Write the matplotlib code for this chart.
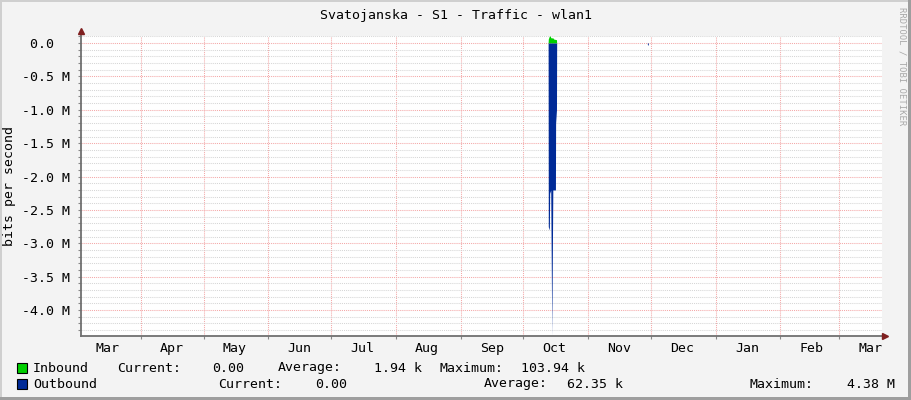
import matplotlib
matplotlib.use("Agg")
import matplotlib.pyplot as plt
import matplotlib.dates as mdates
from matplotlib.patches import Rectangle
from matplotlib.ticker import FixedLocator, FuncFormatter
import pandas as pd

# Traffic samples (bits per second); only the mid-October burst is non-zero
in_times = ["2024-03-03 08:00", "2024-10-12 20:00", "2024-10-12 22:00", "2024-10-13 10:00",
            "2024-10-13 22:00", "2024-10-14 02:00", "2024-10-15 06:00", "2024-10-15 12:00",
            "2024-10-16 20:00", "2024-10-16 22:00", "2025-03-21 14:00"]
in_bps = [0, 0, 0.06e6, 0.104e6, 0.104e6, 0.08e6, 0.075e6, 0.06e6, 0.05e6, 0, 0]

out_times = ["2024-03-03 08:00", "2024-10-12 20:00", "2024-10-12 22:00", "2024-10-13 10:00",
             "2024-10-13 14:00", "2024-10-14 02:00", "2024-10-14 14:00", "2024-10-15 02:00",
             "2024-10-16 08:00", "2024-10-16 10:00", "2024-10-16 20:00", "2024-10-16 22:00",
             "2024-11-29 06:00", "2024-11-29 10:00", "2024-11-29 16:00", "2024-11-29 20:00",
             "2025-03-21 14:00"]
out_bps = [0, 0, 2.75e6, 2.80e6, 2.25e6, 2.20e6, 4.38e6, 2.20e6, 2.20e6, 1.20e6,
           1.00e6, 0, 0, 0.03e6, 0.03e6, 0, 0]

x_start, x_end = "2024-03-03 08:00", "2025-03-21 14:00"
y_bottom, y_top = -4.38e6, 0.104e6

legend_rows = [
    ("Inbound", "#00CF00", [("Current:", 117), ("0.00", 212), ("Average:", 278),
                            ("1.94 k", 374), ("Maximum:", 440), ("103.94 k", 521)]),
    ("Outbound", "#002A97", [("Current:", 218), ("0.00", 315), ("Average:", 484),
                             ("62.35 k", 567), ("Maximum:", 749), ("4.38 M", 847)]),
]

W, H = 911, 400
mono = "DejaVu Sans Mono"
fs = 9.5

fig = plt.figure(figsize=(W / 100, H / 100), dpi=100, facecolor="#F3F3F3")

# 3D-ish frame like rrdtool
fig.patches.append(Rectangle((0, 1 - 2 / H), 1, 2 / H, transform=fig.transFigure,
                             facecolor="#CFCFCF", edgecolor="none"))
fig.patches.append(Rectangle((0, 0), 2 / W, 1, transform=fig.transFigure,
                             facecolor="#CFCFCF", edgecolor="none"))
fig.patches.append(Rectangle((1 - 3 / W, 0), 3 / W, 1, transform=fig.transFigure,
                             facecolor="#9E9E9E", edgecolor="none"))
fig.patches.append(Rectangle((0, 0), 1, 3 / H, transform=fig.transFigure,
                             facecolor="#9E9E9E", edgecolor="none"))

ax_l, ax_r, ax_t, ax_b = 81, 882, 36.1, 335.5
ax = fig.add_axes([ax_l / W, 1 - ax_b / H, (ax_r - ax_l) / W, (ax_b - ax_t) / H])
ax.set_facecolor("white")

t_in = pd.to_datetime(in_times)
t_out = pd.to_datetime(out_times)
ax.fill_between(t_in, 0, in_bps, color="#00CF00", linewidth=0, zorder=3)
ax.fill_between(t_out, 0, [-v for v in out_bps], color="#002A97", linewidth=0, zorder=3)

ax.set_xlim(pd.Timestamp(x_start), pd.Timestamp(x_end))
ax.set_ylim(y_bottom, y_top)

# grid
ax.xaxis.set_major_locator(mdates.MonthLocator(bymonthday=16))
ax.xaxis.set_major_formatter(mdates.DateFormatter("%b"))
ax.xaxis.set_minor_locator(mdates.MonthLocator(bymonthday=1))
major_y = [i * -0.5e6 for i in range(9)]
minor_y = [k * 0.1e6 for k in range(-43, 2) if k % 5 != 0]
ax.yaxis.set_major_locator(FixedLocator(major_y))
ax.yaxis.set_minor_locator(FixedLocator(minor_y))
ax.yaxis.set_major_formatter(FuncFormatter(
    lambda v, p: "0.0  " if abs(v) < 1 else f"{v / 1e6:.1f} M"))

dots = (0, (1, 1))
ax.grid(False)
ax.grid(True, axis="x", which="minor", color="#F4A8A8", linestyle=dots, linewidth=0.75)
ax.grid(True, axis="y", which="major", color="#F4A8A8", linestyle=dots, linewidth=0.75)
ax.grid(True, axis="y", which="minor", color="#D6D6D6", linestyle=dots, linewidth=0.75)
ax.set_axisbelow(True)

ax.tick_params(axis="x", which="major", length=0, pad=5)
ax.tick_params(axis="x", which="minor", length=2, width=0.8, color="#888888", direction="out")
ax.tick_params(axis="y", which="both", length=2, width=0.8, color="#888888", direction="out", pad=6)
for lab in ax.get_xticklabels() + ax.get_yticklabels():
    lab.set_fontfamily(mono)
    lab.set_fontsize(fs)

for s in ax.spines.values():
    s.set_visible(False)

# axes with arrow heads
ax.plot([0, 0], [0, 1.018], transform=ax.transAxes, color="#707070", lw=1.3,
        clip_on=False, zorder=5)
ax.plot([0, 1.004], [0, 0], transform=ax.transAxes, color="#707070", lw=1.3,
        clip_on=False, zorder=5)
ax.plot([0], [1.018], marker="^", markersize=5, color="#7F1F1F", transform=ax.transAxes,
        clip_on=False, zorder=6)
ax.plot([1.004], [0], marker=">", markersize=5, color="#7F1F1F", transform=ax.transAxes,
        clip_on=False, zorder=6)

fig.text(0.5, 1 - 15 / H, "Svatojanska - S1 - Traffic - wlan1", ha="center", va="center",
         family=mono, fontsize=fs)
fig.text(10 / W, 1 - 186 / H, "bits per second", rotation=90, ha="center", va="center",
         family=mono, fontsize=fs)
fig.text(902 / W, 1 - 7 / H, "RRDTOOL / TOBI OETIKER", rotation=270, ha="center", va="top",
         family=mono, fontsize=6.4, color="#A8A8A8")

# legend
for i, (name, color, items) in enumerate(legend_rows):
    yc = 368 + 16 * i
    fig.patches.append(Rectangle((17 / W, 1 - (yc + 5) / H), 10 / W, 10 / H,
                                 transform=fig.transFigure, facecolor=color,
                                 edgecolor="black", linewidth=0.8))
    fig.text(33 / W, 1 - yc / H, name, ha="left", va="center", family=mono, fontsize=fs)
    for txt, x in items:
        fig.text(x / W, 1 - yc / H, txt, ha="left", va="center", family=mono, fontsize=fs)

fig.savefig("out.png", dpi=100, facecolor=fig.get_facecolor())
